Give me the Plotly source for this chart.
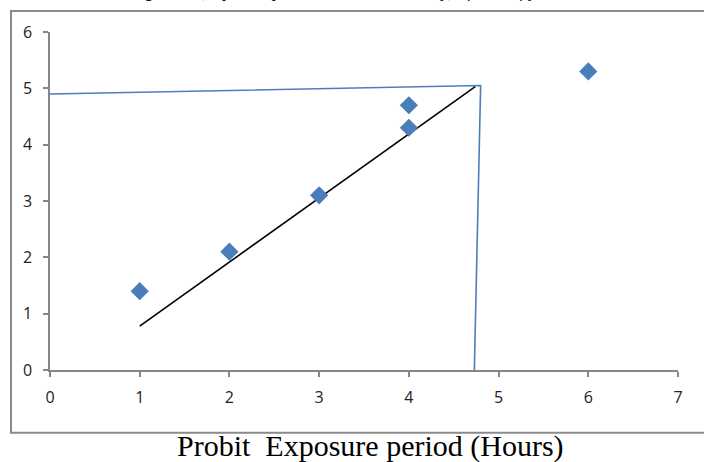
import plotly.graph_objects as go

# Data
exposure_hours = [1, 2, 3, 4, 4, 6]
probit_values = [1.4, 2.1, 3.1, 4.7, 4.3, 5.3]

trend_x = [1.0, 4.74]
trend_y = [0.78, 5.03]

guide_x = [0.0, 4.80, 4.73]
guide_y = [4.90, 5.05, 0.0]

x_ticks = [0, 1, 2, 3, 4, 5, 6, 7]
y_ticks = [0, 1, 2, 3, 4, 5, 6]

BLUE = "#4A7EBB"
AXIS = "#868686"

fig = go.Figure()
fig.add_trace(go.Scatter(x=guide_x, y=guide_y, mode="lines",
                         line=dict(color=BLUE, width=1.6), showlegend=False))
fig.add_trace(go.Scatter(x=trend_x, y=trend_y, mode="lines",
                         line=dict(color="black", width=1.6), showlegend=False))
fig.add_trace(go.Scatter(x=exposure_hours, y=probit_values, mode="markers",
                         marker=dict(symbol="diamond", size=14, color=BLUE,
                                     line=dict(width=0)),
                         showlegend=False))

fig.update_layout(
    width=704, height=462,
    margin=dict(l=50, r=26, t=32, b=92),
    paper_bgcolor="white", plot_bgcolor="white",
    font=dict(family="Open Sans, Liberation Sans, sans-serif", size=16, color="#222"),
    xaxis=dict(range=[0, 7], tickvals=x_ticks, showgrid=False, zeroline=False,
               showline=True, linecolor=AXIS, linewidth=1.5,
               ticks="outside", ticklen=5, tickcolor=AXIS, tickwidth=1.5,
               ticklabelstandoff=7),
    yaxis=dict(range=[0, 6], tickvals=y_ticks, showgrid=False, zeroline=False,
               showline=True, linecolor=AXIS, linewidth=1.5,
               ticks="outside", ticklen=5, tickcolor=AXIS, tickwidth=1.5,
               ticklabelstandoff=8),
    shapes=[dict(type="rect", xref="paper", yref="paper",
                 x0=-0.0621, x1=1.10, y0=-0.186, y1=1.062,
                 line=dict(color="#8a8a8a", width=2), fillcolor="rgba(0,0,0,0)",
                 layer="below")],
    annotations=[
        dict(text="Probit\u00a0\u00a0Exposure period (Hours)", xref="paper", yref="paper",
             x=(370 - 50) / 628, y=(370 - 446) / 338, xanchor="center", yanchor="middle",
             showarrow=False,
             font=dict(family="Liberation Serif, Times New Roman, serif", size=30, color="black")),
        dict(text="Figure 2: (Exposure period vs Probit mortality) of Housefly larvae",
             xref="paper", yref="paper", x=(128 - 50) / 628, y=(370 - 2.6) / 338,
             xanchor="left", yanchor="bottom", showarrow=False,
             font=dict(family="Liberation Serif, Times New Roman, serif", size=17,
                       color="black", style="italic")),
    ],
)

fig.write_html("out.html", config={"displayModeBar": False},
               post_script="document.body.style.margin='0';document.body.style.overflow='hidden';")
